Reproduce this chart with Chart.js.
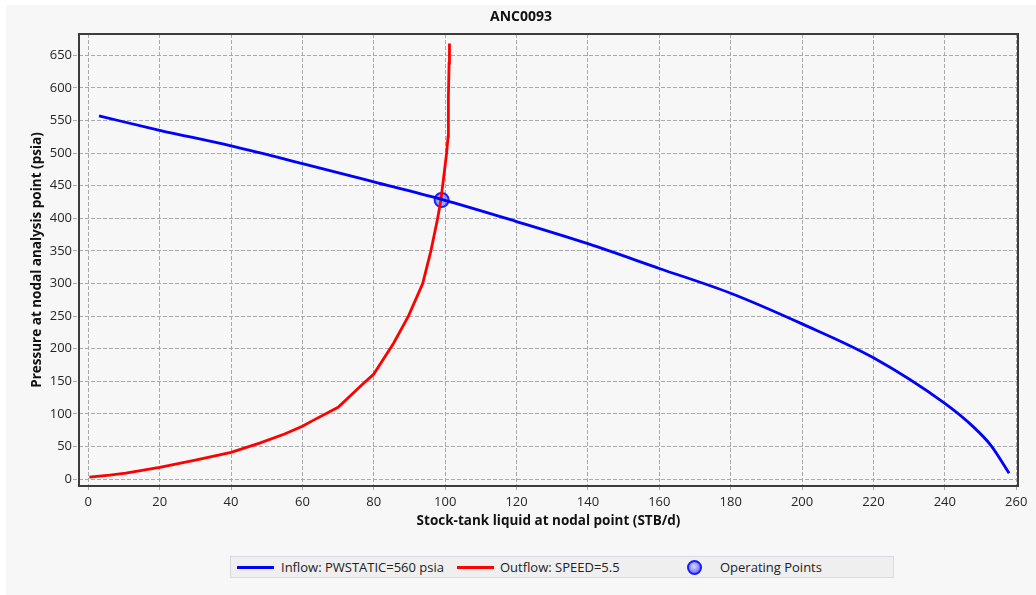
<!DOCTYPE html>
<html>
<head>
<meta charset="utf-8">
<title>ANC0093</title>
<script src="https://cdn.jsdelivr.net/npm/chart.js@4.4.1/dist/chart.umd.min.js"></script>
<style>
    body { margin: 0; background: #fff; }
    #wrap { position: relative; width: 1036px; height: 595px; overflow: hidden; }
    #panel { position: absolute; left: 6px; top: 5px; right: 0; bottom: 0; background: #f7f7f7; }
    #chart { position: absolute; left: 0; top: 0; }
    #legend {
        position: absolute; left: 230px; top: 556px; width: 662px; height: 20px;
        background: #efefef; border: 1px solid #d8dce2;
        font: 13px 'Open Sans', 'Noto Sans', sans-serif; color: #222;
    }
    #legend .txt { position: absolute; top: 0; line-height: 20px; white-space: nowrap; }
    #legend .ln { position: absolute; top: 9px; width: 37px; height: 3px; }
    #legend .dot {
        position: absolute; top: 3px; width: 11px; height: 11px; border-radius: 50%;
        border: 2px solid #1a1aff;
        background: radial-gradient(circle at 45% 40%, #d8d8ff 0%, #8c8cff 55%, #4646ff 100%);
    }
</style>
</head>
<body>
<div id="wrap">
    <div id="panel"></div>
    <canvas id="chart" width="1036" height="595"></canvas>
    <div id="legend"></div>
</div>
<script>
// Dados
const inflowQ = [3, 20, 40, 60, 80, 99, 120, 140, 160, 180, 200, 220, 240, 248, 253, 258];
const inflowP = [557, 535, 511, 484, 456, 429, 395, 361, 323, 285, 238, 186, 116, 80, 51, 9];

const outflowQ = [0.3, 6, 10.5, 20, 30, 40, 48, 55, 60, 63, 70, 77, 80, 85.5, 89.7, 93.7, 96, 97.9, 98.8, 99.6, 100.4, 100.8, 100.9, 101.1, 101.2];
const outflowP = [3, 6, 9, 18, 29, 41, 55, 69, 81, 90, 110, 146, 161, 208, 250, 300, 350, 400, 428, 464, 500, 525, 586, 638, 668];

const opQ = [99];
const opP = [428];

const seriesNames = ['Inflow: PWSTATIC=560 psia', 'Outflow: SPEED=5.5', 'Operating Points'];

const xTicks = [0, 20, 40, 60, 80, 100, 120, 140, 160, 180, 200, 220, 240, 260];
const yTicks = [0, 50, 100, 150, 200, 250, 300, 350, 400, 450, 500, 550, 600, 650];

const toXY = (xs, ys) => xs.map((x, i) => ({ x: x, y: ys[i] }));

const FONT = "'Open Sans', 'Noto Sans', sans-serif";
Chart.defaults.font.family = FONT;

// moldura da área do gráfico
const frame = {
    id: 'frame',
    afterDatasetsDraw(chart) {
        const a = chart.chartArea, ctx = chart.ctx;
        ctx.save();
        ctx.strokeStyle = '#3c3c3c';
        ctx.lineWidth = 2;
        ctx.strokeRect(a.left, a.top, a.right - a.left, a.bottom - a.top);
        ctx.restore();
    }
};

const gridOpts = { color: '#aaaaaa', lineWidth: 1, tickLength: 6, tickColor: '#aaaaaa', tickBorderDash: [4, 2] };
const tickFont = { family: FONT, size: 13 };
const axisTitleFont = { family: FONT, size: 13.5, weight: 'bold' };

new Chart(document.getElementById('chart'), {
    type: 'line',
    data: {
        datasets: [
            {
                label: seriesNames[0],
                data: toXY(inflowQ, inflowP),
                borderColor: '#0000ff',
                borderWidth: 2.8,
                pointRadius: 0,
                cubicInterpolationMode: 'monotone'
            },
            {
                label: seriesNames[1],
                data: toXY(outflowQ, outflowP),
                borderColor: '#ff0000',
                borderWidth: 2.8,
                pointRadius: 0,
                tension: 0
            },
            {
                label: seriesNames[2],
                data: toXY(opQ, opP),
                showLine: false,
                pointRadius: 7,
                pointBackgroundColor: 'rgba(90, 90, 255, 0.55)',
                pointBorderColor: '#2020ff',
                pointBorderWidth: 2
            }
        ]
    },
    options: {
        responsive: false,
        animation: false,
        devicePixelRatio: 1,
        layout: { padding: { left: 24, right: 18, top: 0, bottom: 60 } },
        plugins: {
            legend: { display: false },
            tooltip: { enabled: false },
            title: {
                display: true,
                text: 'ANC0093',
                color: '#111',
                font: { family: FONT, size: 14, weight: 'bold' },
                padding: { top: 8.6, bottom: 8.6 }
            }
        },
        scales: {
            x: {
                type: 'linear',
                min: -2.6,
                max: 260.5,
                afterBuildTicks: s => { s.ticks = xTicks.map(v => ({ value: v })); },
                afterFit: s => { s.height = 49; },
                grid: gridOpts,
                border: { display: false, dash: [4, 2] },
                ticks: { color: '#262626', font: tickFont, padding: 2, maxRotation: 0, autoSkip: false },
                title: {
                    display: true,
                    text: 'Stock-tank liquid at nodal point (STB/d)',
                    color: '#111',
                    font: axisTitleFont,
                    padding: { top: 0, bottom: 5.9 }
                }
            },
            y: {
                type: 'linear',
                min: -10.7,
                max: 682.7,
                afterBuildTicks: s => { s.ticks = yTicks.map(v => ({ value: v })); },
                afterFit: s => { s.width = 55; },
                grid: gridOpts,
                border: { display: false, dash: [4, 2] },
                ticks: { color: '#262626', font: tickFont, padding: 1, autoSkip: false },
                title: {
                    display: true,
                    text: 'Pressure at nodal analysis point (psia)',
                    color: '#111',
                    font: axisTitleFont,
                    padding: { top: 4.9, bottom: 0 }
                }
            }
        }
    },
    plugins: [frame]
});

// Legenda em HTML
const legend = document.getElementById('legend');
legend.innerHTML = `
    <div class="ln" style="left:6px; background:#0000ff"></div>
    <span class="txt" style="left:50px">${seriesNames[0]}</span>
    <div class="ln" style="left:226px; background:#ff0000"></div>
    <span class="txt" style="left:269px">${seriesNames[1]}</span>
    <div class="dot" style="left:456px"></div>
    <span class="txt" style="left:489px">${seriesNames[2]}</span>
`;
</script>
</body>
</html>
